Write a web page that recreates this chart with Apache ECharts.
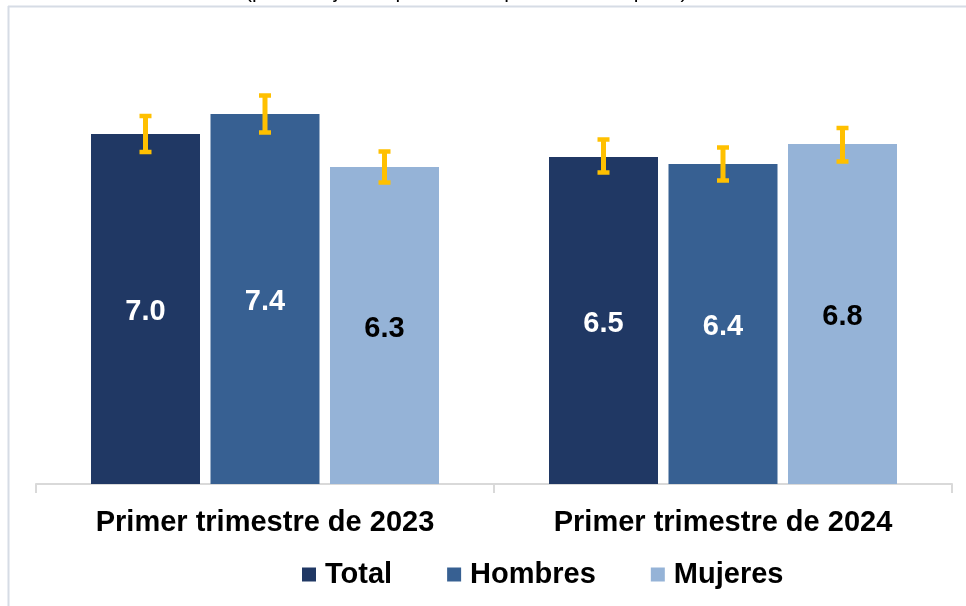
<!DOCTYPE html>
<html>
<head>
<meta charset="utf-8">
<script src="https://cdn.jsdelivr.net/npm/echarts@6/dist/echarts.min.js"></script>
<style>
html,body{margin:0;padding:0;background:#fff;}
#chart{width:966px;height:606px;}
</style>
</head>
<body>
<div id="chart"></div>
<script>
const categories = ['Primer trimestre de 2023', 'Primer trimestre de 2024'];
const seriesNames = ['Total', 'Hombres', 'Mujeres'];
const totalValues = [7.0, 6.54];
const hombresValues = [7.4, 6.4];
const mujeresValues = [6.34, 6.8];
const totalLow = [6.64, 6.23];
const totalHigh = [7.36, 6.89];
const hombresLow = [7.03, 6.07];
const hombresHigh = [7.77, 6.73];
const mujeresLow = [6.03, 6.45];
const mujeresHigh = [6.65, 7.12];
const subtitle = '(porcentajes respecto de la población ocupada)';

const colors = ['#203864', '#376092', '#95B3D7'];
const labelColors = ['#ffffff', '#ffffff', '#000000'];
const FONT = 'Arial, "Liberation Sans", sans-serif';
const BAR_W = 109;
const BAR_GAP = 10.5;

const values = [totalValues, hombresValues, mujeresValues];
const lows = [totalLow, hombresLow, mujeresLow];
const highs = [totalHigh, hombresHigh, mujeresHigh];

const chart = echarts.init(document.getElementById('chart'), null, {renderer: 'canvas'});

const series = [];
seriesNames.forEach((name, i) => {
  series.push({
    name: name,
    type: 'bar',
    data: values[i],
    barWidth: BAR_W,
    barGap: (BAR_GAP / BAR_W * 100) + '%',
    itemStyle: {color: colors[i]},
    label: {
      show: true,
      position: 'inside',
      offset: [0, 3],
      formatter: p => p.value.toFixed(1),
      color: labelColors[i],
      fontFamily: FONT,
      fontWeight: 'bold',
      fontSize: 29
    },
    z: 2
  });
});
seriesNames.forEach((name, i) => {
  const offset = (i - 1) * (BAR_W + BAR_GAP);
  series.push({
    type: 'custom',
    name: name + '_err',
    data: categories.map((c, j) => [j, lows[i][j], highs[i][j]]),
    encode: {x: 0, y: [1, 2]},
    z: 5,
    silent: true,
    renderItem: function (params, api) {
      const c = api.coord([api.value(0), api.value(1)]);
      const h = api.coord([api.value(0), api.value(2)]);
      const x = c[0] + offset;
      const yl = c[1], yh = h[1];
      const cw = 12, ct = 4.5, sw = 5;
      const st = {fill: '#FFC000'};
      return {
        type: 'group',
        children: [
          {type: 'rect', shape: {x: x - sw / 2, y: yh, width: sw, height: yl - yh}, style: st},
          {type: 'rect', shape: {x: x - cw / 2, y: yh - ct / 2, width: cw, height: ct}, style: st},
          {type: 'rect', shape: {x: x - cw / 2, y: yl - ct / 2, width: cw, height: ct}, style: st}
        ]
      };
    }
  });
});

chart.setOption({
  animation: false,
  backgroundColor: '#ffffff',
  grid: {left: 36, right: 14, top: 84, bottom: 122},
  legend: {
    data: seriesNames,
    left: 297,
    top: 555,
    icon: 'rect',
    itemWidth: 14,
    itemHeight: 14,
    itemGap: 55,
    textStyle: {fontFamily: FONT, fontWeight: 'bold', fontSize: 29, color: '#000', padding: [0, 0, 0, 4]}
  },
  xAxis: {
    type: 'category',
    data: categories,
    axisLine: {lineStyle: {color: '#D9D9D9', width: 2}},
    axisTick: {show: true, length: 9, lineStyle: {color: '#D9D9D9', width: 2}},
    axisLabel: {fontFamily: FONT, fontWeight: 'bold', fontSize: 29, color: '#000', margin: 24}
  },
  yAxis: {type: 'value', min: 0, max: 8, show: false, splitLine: {show: false}},
  graphic: [
    {type: 'line', shape: {x1: 8, y1: 6.5, x2: 966, y2: 6.5}, style: {stroke: '#D6DCE5', lineWidth: 2}, silent: true},
    {type: 'line', shape: {x1: 8.5, y1: 6, x2: 8.5, y2: 606}, style: {stroke: '#D6DCE5', lineWidth: 2}, silent: true},
    {type: 'text', left: 245, top: -18, style: {text: subtitle, font: '21px Arial, "Liberation Sans", sans-serif', fill: '#000'}, silent: true}
  ],
  series: series
});
</script>
</body>
</html>
